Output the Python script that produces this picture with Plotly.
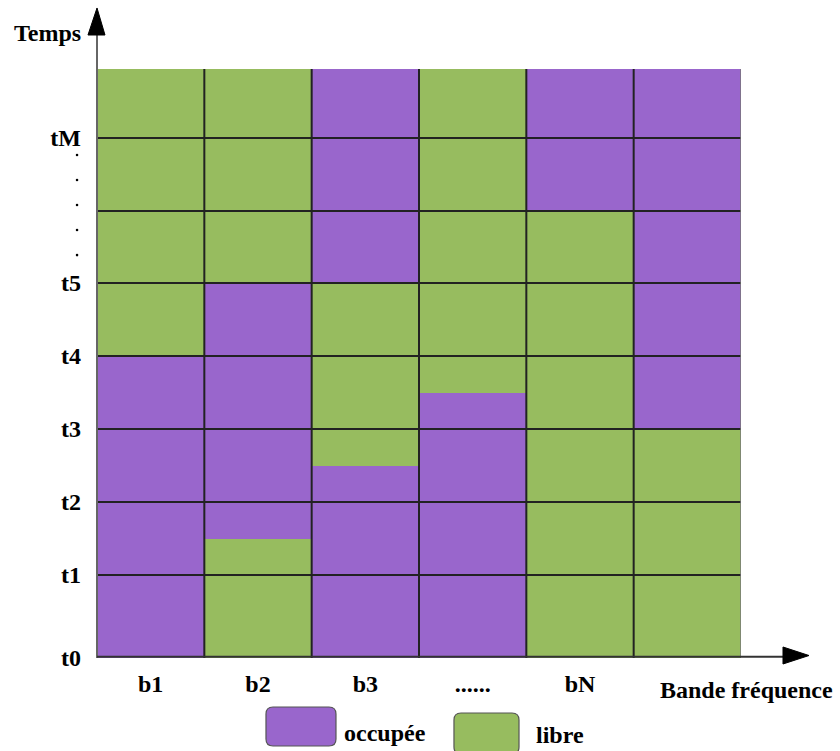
import plotly.graph_objects as go

# ---------------- data ----------------
bands = ["b1", "b2", "b3", "......", "bN", ""]
time_edges = [0, 83, 156, 229, 302, 375, 447, 520, 589]   # time units
time_labels = ["t0", "t1", "t2", "t3", "t4", "t5", "", "tM"]

# per band: list of (start, end, state)
b1_segments = [(0, 302, "occ"), (302, 589, "lib")]
b2_segments = [(0, 119, "lib"), (119, 375, "occ"), (375, 589, "lib")]
b3_segments = [(0, 192, "occ"), (192, 375, "lib"), (375, 589, "occ")]
b4_segments = [(0, 265, "occ"), (265, 589, "lib")]
bN_segments = [(0, 447, "lib"), (447, 589, "occ")]
b6_segments = [(0, 229, "lib"), (229, 589, "occ")]
all_segments = [b1_segments, b2_segments, b3_segments, b4_segments, bN_segments, b6_segments]

state_names = {"occ": "occupée", "lib": "libre"}
PURPLE = "#9966CC"
GREEN = "#97BC5F"
colors = {"occ": PURPLE, "lib": GREEN}
GRID = "#222222"
FONT = dict(family="Liberation Serif", size=24, color="black", weight="bold")

fig = go.Figure()
for state in ["occ", "lib"]:
    xs, bases, lens = [], [], []
    for i, segs in enumerate(all_segments):
        for s, e, st in segs:
            if st == state:
                xs.append(i)
                bases.append(s)
                lens.append(e - s)
    fig.add_trace(go.Bar(x=xs, y=lens, base=bases, width=1.0,
                         marker=dict(color=colors[state], line=dict(width=0)),
                         name=state_names[state], showlegend=False))

n = len(bands)
top = time_edges[-1]
shapes = []
# horizontal grid lines
for t in time_edges[1:-1]:
    shapes.append(dict(type="line", xref="x", yref="y", x0=-0.5, x1=n - 0.5, y0=t, y1=t,
                       line=dict(color=GRID, width=2), layer="above"))
# vertical grid lines
for i in range(1, n):
    shapes.append(dict(type="line", xref="x", yref="y", x0=i - 0.5, x1=i - 0.5, y0=0, y1=top,
                       line=dict(color=GRID, width=2), layer="above"))
# right edge
shapes.append(dict(type="line", xref="x", yref="y", x0=n - 0.5, x1=n - 0.5, y0=0, y1=top,
                   line=dict(color="#777777", width=1.5), layer="above"))
# y axis arrow
shapes.append(dict(type="line", xref="paper", yref="paper", x0=0, x1=0, y0=0, y1=1.058,
                   line=dict(color="#666666", width=2), layer="above"))
shapes.append(dict(type="path", xref="paper", yref="paper",
                   path="M -0.0140,1.0577 L 0.0124,1.0577 L 0,1.1036 Z",
                   fillcolor="black", line=dict(color="black", width=1), layer="above"))
# x axis arrow
shapes.append(dict(type="line", xref="paper", yref="paper", x0=0, x1=1.068, y0=0.002, y1=0.002,
                   line=dict(color="#333333", width=2), layer="above"))
shapes.append(dict(type="path", xref="paper", yref="paper",
                   path="M 1.0652,0.0187 L 1.0652,-0.0102 L 1.1056,0.0042 Z",
                   fillcolor="black", line=dict(color="black", width=1), layer="above"))

# vertical ellipsis between t5 and tM (small dots)
rx, ry = 1.3 / 644, 1.3 / 589
for yp in [0.854, 0.8115, 0.769, 0.7267, 0.684]:
    shapes.append(dict(type="circle", xref="paper", yref="paper",
                       x0=-0.031 - rx, x1=-0.031 + rx, y0=yp - ry, y1=yp + ry,
                       fillcolor="black", line=dict(width=0)))


def rounded(x0, x1, y0, y1, rpx=7):
    rx, ry = rpx / 644, rpx / 589
    return (f"M {x0+rx},{y0} L {x1-rx},{y0} Q {x1},{y0} {x1},{y0+ry} "
            f"L {x1},{y1-ry} Q {x1},{y1} {x1-rx},{y1} L {x0+rx},{y1} "
            f"Q {x0},{y1} {x0},{y1-ry} L {x0},{y0+ry} Q {x0},{y0} {x0+rx},{y0} Z")


# legend boxes
shapes.append(dict(type="path", xref="paper", yref="paper",
                   path=rounded(0.2624, 0.3711, -0.1494, -0.0832),
                   fillcolor=PURPLE, line=dict(color="#555555", width=1.2)))
shapes.append(dict(type="path", xref="paper", yref="paper",
                   path=rounded(0.5543, 0.6553, -0.1630, -0.0934),
                   fillcolor=GREEN, line=dict(color="#555555", width=1.2)))

annotations = [
    dict(text="Temps", xref="paper", yref="paper", x=-0.0217, y=1.061, xanchor="right",
         yanchor="middle", showarrow=False, font=FONT),
    dict(text="Bande fréquence", xref="paper", yref="paper", x=1.0085, y=-0.054,
         xanchor="center", yanchor="middle", showarrow=False, font=FONT),
    dict(text="occupée", xref="paper", yref="paper", x=0.380, y=-0.127, xanchor="left",
         yanchor="middle", showarrow=False, font=FONT),
    dict(text="libre", xref="paper", yref="paper", x=0.678, y=-0.131, xanchor="left",
         yanchor="middle", showarrow=False, font=FONT),
]

fig.update_layout(
    width=840, height=751,
    margin=dict(l=97, r=99, t=69, b=93),
    paper_bgcolor="white", plot_bgcolor="white",
    barmode="overlay", bargap=0,
    shapes=shapes, annotations=annotations,
    xaxis=dict(range=[-0.5, n - 0.5], tickmode="array", tickvals=list(range(n)),
               ticktext=bands, showgrid=False, zeroline=False, showline=False,
               ticks="", tickfont=FONT, ticklabelstandoff=9, fixedrange=True),
    yaxis=dict(range=[0, top], tickmode="array", tickvals=time_edges[:-1],
               ticktext=time_labels, showgrid=False, zeroline=False, showline=False,
               ticks="", tickfont=FONT, ticklabelstandoff=15, fixedrange=True),
)

fig.write_html("out.html", config={"displayModeBar": False},
               post_script="document.body.style.margin='0';document.body.style.overflow='hidden';")
